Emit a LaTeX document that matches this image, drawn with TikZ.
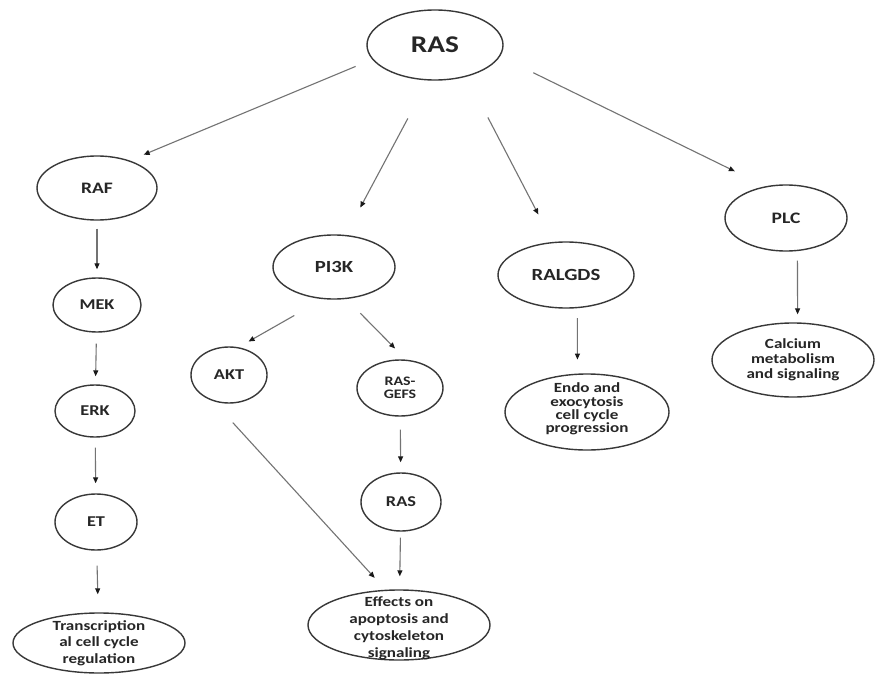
\documentclass[tikz,border=0pt]{standalone}
\usepackage{fontspec}
\setmainfont{Carlito}[FakeStretch=1.22]
\usetikzlibrary{shapes.geometric,arrows.meta}
\begin{document}
\begin{tikzpicture}[x=1pt,y=-1pt,
  ell/.style={draw=black!78, line width=1.4pt, ellipse, inner sep=0pt},
  lbl/.style={text=black!85, align=center, inner sep=0pt},
  arr/.style={draw=black!55, line width=1.1pt, -{Triangle[length=6pt,width=5pt,color=black!90]}}]
\path[use as bounding box] (0,0) rectangle (875,690);
\fill[white] (0,0) rectangle (875,690);

% ellipses
\node[ell, minimum width=136pt, minimum height=70pt] (ras) at (435,45) {};
\node[ell, minimum width=120pt, minimum height=64pt] (raf) at (97,188) {};
\node[ell, minimum width=88pt, minimum height=54pt] (mek) at (97,305) {};
\node[ell, minimum width=80pt, minimum height=52pt] (erk) at (95,411) {};
\node[ell, minimum width=82pt, minimum height=56pt] (et) at (96,522) {};
\node[ell, minimum width=172pt, minimum height=60pt] (trans) at (99,643) {};
\node[ell, minimum width=122pt, minimum height=64pt] (pi3k) at (334,267) {};
\node[ell, minimum width=76pt, minimum height=56pt] (akt) at (229,375) {};
\node[ell, minimum width=86pt, minimum height=56pt] (gefs) at (400,388) {};
\node[ell, minimum width=80pt, minimum height=58pt] (ras2) at (401,502) {};
\node[ell, minimum width=182pt, minimum height=70pt] (eff) at (399,625) {};
\node[ell, minimum width=136pt, minimum height=66pt] (ralgds) at (566,275) {};
\node[ell, minimum width=164pt, minimum height=76pt] (endo) at (587,412) {};
\node[ell, minimum width=122pt, minimum height=66pt] (plc) at (786,218) {};
\node[ell, minimum width=162pt, minimum height=74pt] (calc) at (793,360) {};

% labels
\node[lbl, font={\bfseries\fontsize{24}{28}\selectfont}] (rasT) at (ras) {RAS};
\node[lbl, font={\bfseries\fontsize{16}{19}\selectfont}] (rafT) at (raf) {RAF};
\node[lbl, font={\bfseries\fontsize{15}{18}\selectfont}] (mekT) at (mek) {MEK};
\node[lbl, font={\bfseries\fontsize{15}{18}\selectfont}] (erkT) at (erk) {ERK};
\node[lbl, font={\bfseries\fontsize{15}{18}\selectfont}] (etT) at (et) {ET};
\node[lbl, font={\bfseries\fontsize{14}{16.7}\selectfont}] (transT) at (trans) {Transcription\\al cell cycle\\regulation};
\node[lbl, font={\bfseries\fontsize{17}{20}\selectfont}] (pi3kT) at (pi3k) {PI3K};
\node[lbl, font={\bfseries\fontsize{15}{18}\selectfont}] (aktT) at (akt) {AKT};
\node[lbl, font={\bfseries\fontsize{13}{12.5}\selectfont}] (gefsT) at (gefs) {RAS-\\GEFS};
\node[lbl, font={\bfseries\fontsize{15}{18}\selectfont}] (ras2T) at (ras2) {RAS};
\node[lbl, font={\bfseries\fontsize{14}{17}\selectfont}] (effT) at ([yshift=-3pt]eff.center) {Effects on\\apoptosis and\\cytoskeleton\\signaling};
\node[lbl, font={\bfseries\fontsize{17}{20}\selectfont}] (ralgdsT) at (ralgds) {RALGDS};
\node[lbl, font={\bfseries\fontsize{14}{13.4}\selectfont}] (endoT) at ([yshift=3pt]endo.center) {Endo and\\exocytosis\\cell cycle\\progression};
\node[lbl, font={\bfseries\fontsize{16}{19}\selectfont}] (plcT) at (plc) {PLC};
\node[lbl, font={\bfseries\fontsize{14}{15}\selectfont}] (calcT) at (calc) {Calcium\\metabolism\\and signaling};

% connectors
\draw[arr, shorten <=18pt, shorten >=15pt] (ras.193.8) -- (raf.40.5);
\draw[arr, shorten <=43pt, shorten >=31pt] (ras.259.3) -- (pi3k.70.3);
\draw[arr, shorten <=46pt, shorten >=31pt] (ras.-45.4) -- (ralgds.112.8);
\draw[arr, shorten <=37pt, shorten >=34pt] (ras.-10.5) -- (plc.123.4);
\draw[arr, shorten <=33pt, shorten >=11.5pt] (pi3k.251.9) -- (akt.71.7);
\draw[arr, shorten <=20pt, shorten >=15.6pt] (pi3k.-69.4) -- (gefs.78);
\draw[arr, shorten <=29pt, shorten >=16pt] (akt.-121) -- (eff.111);
\draw[arr, shorten <=8pt, shorten >=8pt] (raf) -- (mek);
\draw[arr, shorten <=11pt, shorten >=8pt] (mek) -- (erk);
\draw[arr, shorten <=10pt, shorten >=10pt] (erk) -- (et);
\draw[arr, shorten <=15pt, shorten >=18pt] (et) -- (trans);
\draw[arr, shorten <=13pt, shorten >=10pt] (gefs) -- (ras2);
\draw[arr, shorten <=6pt, shorten >=13pt] (ras2) -- (eff);
\draw[arr, shorten <=10pt, shorten >=14pt] (ralgds.-71.4) -- (endo.104.9);
\draw[arr, shorten <=9.5pt, shorten >=8pt] (plc.-71.3) -- (calc.83.8);
\end{tikzpicture}
\end{document}
